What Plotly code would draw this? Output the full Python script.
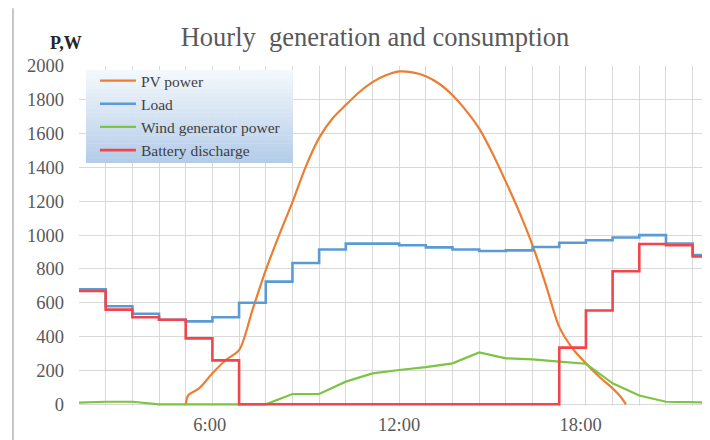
import plotly.graph_objects as go

# ---- data ----
steps = list(range(24))  # hourly grid steps (one per vertical gridline)
load = [680, 580, 535, 500, 490, 515, 600, 725, 835, 915, 950, 950,
        940, 928, 915, 906, 910, 930, 955, 970, 986, 1000, 950, 882]
battery = [670, 560, 515, 500, 390, 260, 0, 0, 0, 0, 0, 0,
           0, 0, 0, 0, 0, 0, 335, 555, 787, 948, 940, 874]
wind_x = list(range(25))
wind = [10, 15, 15, 0, 0, 0, 0, 0, 61, 61, 134, 183, 203, 220, 242, 307,
        272, 266, 252, 240, 124, 52, 15, 10, 10]
pv_x = [4, 4.1, 4.5, 5, 5.5, 6, 6.5, 7, 7.5, 8, 8.5, 9, 9.5, 10, 10.5, 11,
        11.5, 12, 12.5, 13, 13.5, 14, 14.5, 15, 15.5, 16, 16.5, 17, 17.5,
        18, 18.5, 19, 19.5, 20, 20.3, 20.5]
pv = [0, 55, 94, 183, 262, 320, 557, 793, 1000, 1195, 1405, 1575, 1690,
      1770, 1845, 1905, 1945, 1968, 1962, 1940, 1895, 1827, 1738, 1630,
      1483, 1315, 1138, 940, 705, 458, 330, 242, 163, 94, 45, 0]
tick_pos = [4.9, 12, 18.8]
tick_text = ["6:00", "12:00", "18:00"]
y_ticks = list(range(0, 2001, 200))

# step series get a closing point so the last step runs to the edge
step_x = steps + [len(steps)]
load_y = load + [load[-1]]
batt_y = battery + [battery[-1]]

SERIF = "Liberation Serif"
fig = go.Figure()
fig.add_trace(go.Scatter(x=pv_x, y=pv, name="PV power", mode="lines",
                         line=dict(color="#ED7D31", width=2.2, shape="spline", smoothing=0.8)))
fig.add_trace(go.Scatter(x=step_x, y=load_y, name="Load", mode="lines",
                         line=dict(color="#5B9BD5", width=2.6, shape="hv")))
fig.add_trace(go.Scatter(x=wind_x, y=wind, name="Wind generator power", mode="lines",
                         line=dict(color="#7DC443", width=2.2)))
fig.add_trace(go.Scatter(x=step_x, y=batt_y, name="Battery discharge", mode="lines",
                         line=dict(color="#F2454B", width=2.6, shape="hv")))

# gradient legend background
lx0, lx1, ly0, ly1 = 0.011, 0.339, 0.715, 0.988
shapes = []
n = 24
top = (244, 248, 252)
bot = (180, 205, 233)
for i in range(n):
    t = i / (n - 1)
    c = tuple(round(top[j] + (bot[j] - top[j]) * t) for j in range(3))
    y1 = ly1 - (ly1 - ly0) * i / n
    y0 = ly1 - (ly1 - ly0) * (i + 1) / n
    shapes.append(dict(type="rect", xref="paper", yref="paper", x0=lx0, x1=lx1,
                       y0=y0, y1=y1 + 0.001, line=dict(width=0),
                       fillcolor="rgb(%d,%d,%d)" % c, layer="above"))
# chart-area border line at far left
shapes.append(dict(type="line", xref="paper", yref="paper", x0=-0.1046, x1=-0.1046,
                   y0=-0.2, y1=1.17, line=dict(color="#C8C8C8", width=2)))

# the page body has an 8px margin, so the figure is 702x432
W, H = 702, 432
fig.update_layout(
    width=W, height=H,
    margin=dict(l=71, r=0, t=58, b=34, autoexpand=False),
    paper_bgcolor="white", plot_bgcolor="white",
    title=dict(text="Hourly  generation and consumption", x=367 / W, xanchor="center",
               y=1 - 29 / H, yanchor="middle", xref="container", yref="container",
               font=dict(family=SERIF, size=26.5, color="#595959")),
    showlegend=True,
    legend=dict(x=lx0 + 9 / 631, y=ly1 + 6 / 340, xanchor="left", yanchor="top",
                bgcolor="rgba(0,0,0,0)",
                font=dict(family=SERIF, size=15.5, color="#404040"), itemwidth=36,
                traceorder="normal"),
    shapes=shapes,
    annotations=[dict(text="<b>P,W</b>", x=(66 - 79) / 631, y=(406 - 43) / 340, xref="paper",
                      yref="paper", xanchor="center", yanchor="middle", showarrow=False,
                      font=dict(family=SERIF, size=18, color="#262626"))],
)

fig.update_xaxes(range=[0, 23.65], tickvals=tick_pos, ticktext=tick_text, showgrid=False,
                 zeroline=False, showline=False, ticks="", automargin=False,
                 ticklabelstandoff=5,
                 tickfont=dict(family=SERIF, size=18.5, color="#595959"),
                 minor=dict(dtick=1, tick0=0, showgrid=True, gridcolor="#D9D9D9", gridwidth=1))
fig.update_yaxes(range=[-10, 2000], tickvals=y_ticks, showgrid=True, gridcolor="#D9D9D9",
                 gridwidth=1, zeroline=False, showline=False, ticks="", ticklabelstandoff=14,
                 automargin=False,
                 tickfont=dict(family=SERIF, size=18.5, color="#595959"))

fig.write_html("out.html")
